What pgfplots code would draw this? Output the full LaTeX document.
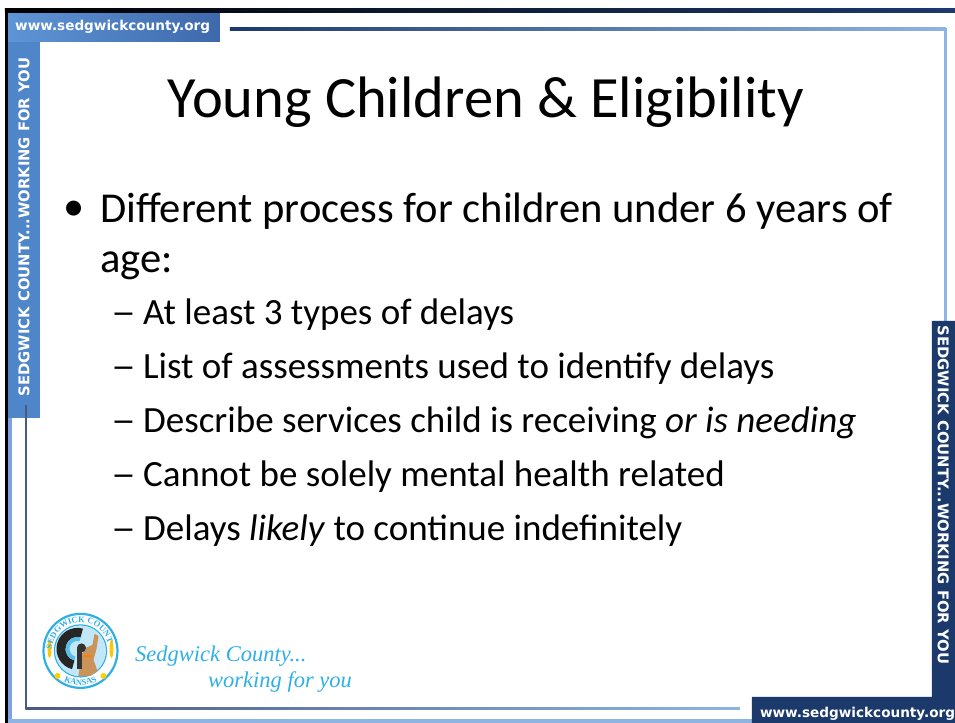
\documentclass[border=0pt]{standalone}
\usepackage{pgfplots}
\pgfplotsset{compat=1.18}
\usepackage{fontspec}
\setmainfont{Carlito}
\newfontfamily\bandfont{DejaVu Sans}
\newfontfamily\logofont{Liberation Serif}
\usetikzlibrary{decorations.text}
\definecolor{bandblue}{HTML}{4F86C9}
\definecolor{bandlight}{HTML}{5E95D6}
\definecolor{tabdark}{HTML}{3E69AC}
\definecolor{navy}{HTML}{1B3A6B}
\definecolor{lineblue}{HTML}{8DB4E2}
\definecolor{logoblue}{HTML}{2FAFE6}
\definecolor{framegray}{HTML}{4A5A80}
\definecolor{skin}{HTML}{C9935A}
\begin{document}
\begin{tikzpicture}
\begin{axis}[scale only axis, width=955pt, height=723pt,
  xmin=0, xmax=955, ymin=0, ymax=723, y dir=reverse,
  hide axis, clip=false]
\path (axis cs:0,0) rectangle (axis cs:955,723);
% left band with top tab
\addplot[fill=bandblue, draw=none] coordinates {(8,13) (40,13) (40,418) (8,418)} -- cycle;
\shade[left color=bandlight, right color=tabdark] (axis cs:8,13) rectangle (axis cs:220,42);
% outer borders
\shade[left color=black, right color=navy] (axis cs:5,9) rectangle (axis cs:955,13);
\fill[black] (axis cs:5,9) rectangle (axis cs:8,723);
\fill[lineblue!90!blue] (axis cs:8,418) rectangle (axis cs:12,723);
\fill[lineblue] (axis cs:8,719) rectangle (axis cs:752,723);
% inner frame
\fill[framegray] (axis cs:25.3,405) rectangle (axis cs:27,709);
\shade[left color=framegray, right color=lineblue] (axis cs:25.3,707.3) rectangle (axis cs:740,709.3);
% top line and right line
\shade[left color=navy, right color=lineblue] (axis cs:230,28) rectangle (axis cs:946,30.5);
\fill[lineblue] (axis cs:944.5,28) rectangle (axis cs:947,325);
% right band and bottom tab
\addplot[fill=navy, draw=none] coordinates {(932,321) (955,321) (955,723) (752,723) (752,697) (932,697)} -- cycle;
% band texts
\node[rotate=90, text=white, font=\bandfont\bfseries\fontsize{14.8}{15}\selectfont] at (axis cs:24,227) {SEDGWICK COUNTY...WORKING FOR YOU};
\node[rotate=-90, text=white, font=\bandfont\bfseries\fontsize{14.8}{15}\selectfont] at (axis cs:943.5,495) {SEDGWICK COUNTY...WORKING FOR YOU};
\node[anchor=base west, inner sep=0, text=white, font=\bandfont\bfseries\fontsize{13.6}{14}\selectfont] at (axis cs:15,31) {www.sedgwickcounty.org};
\node[anchor=base west, inner sep=0, text=white, font=\bandfont\bfseries\fontsize{13.6}{14}\selectfont] at (axis cs:760,718) {www.sedgwickcounty.org};
% title
\node[anchor=base, inner sep=0, font=\fontsize{58.5}{66}\selectfont] at (axis cs:486,118) {Young Children \& Eligibility};
% bullet
\node[anchor=base west, inner sep=0, font=\fontsize{42.4}{48}\selectfont] at (axis cs:63,221) {•};
\node[anchor=base west, inner sep=0, font=\fontsize{42.6}{48}\selectfont] at (axis cs:100,223) {Different process for children under 6 years of};
\node[anchor=base west, inner sep=0, font=\fontsize{42.6}{48}\selectfont] at (axis cs:100,273) {age:};
% sub bullets
\node[anchor=base west, inner sep=0, font=\fontsize{37}{44}\selectfont] at (axis cs:111,325) {\scalebox{1.35}[1]{–}};
\node[anchor=base west, inner sep=0, font=\fontsize{37}{44}\selectfont] at (axis cs:143,325) {At least 3 types of delays};
\node[anchor=base west, inner sep=0, font=\fontsize{37}{44}\selectfont] at (axis cs:111,379) {\scalebox{1.35}[1]{–}};
\node[anchor=base west, inner sep=0, font=\fontsize{37}{44}\selectfont] at (axis cs:143,379) {List of assessments used to identify delays};
\node[anchor=base west, inner sep=0, font=\fontsize{37}{44}\selectfont] at (axis cs:111,433) {\scalebox{1.35}[1]{–}};
\node[anchor=base west, inner sep=0, font=\fontsize{37}{44}\selectfont] at (axis cs:143,433) {Describe services child is receiving \textit{or is needing}};
\node[anchor=base west, inner sep=0, font=\fontsize{37}{44}\selectfont] at (axis cs:111,487) {\scalebox{1.35}[1]{–}};
\node[anchor=base west, inner sep=0, font=\fontsize{37}{44}\selectfont] at (axis cs:143,487) {Cannot be solely mental health related};
\node[anchor=base west, inner sep=0, font=\fontsize{37}{44}\selectfont] at (axis cs:111,541) {\scalebox{1.35}[1]{–}};
\node[anchor=base west, inner sep=0, font=\fontsize{37}{44}\selectfont] at (axis cs:143,541) {Delays \textit{likely} to continue indefinitely};
% logo text
\node[anchor=base west, inner sep=0, text=logoblue, font=\logofont\itshape\fontsize{22.5}{24}\selectfont] at (axis cs:135,662) {Sedgwick County...};
\node[anchor=base west, inner sep=0, text=logoblue, font=\logofont\itshape\fontsize{22.5}{24}\selectfont] at (axis cs:208,688) {working for you};
\coordinate (L) at (axis cs:80.5,651);
\end{axis}
\begin{scope}[shift={(L)}]
  \draw[logoblue, line width=2.2pt] (0,0) circle (37pt);
  \draw[logoblue, line width=1.3pt] (0,0) circle (26pt);
  \fill[logoblue!30] (0,0) circle (25.3pt);
  \fill[black!85] ([shift={(-3pt,2pt)}]75:21pt) arc (75:255:21pt) -- ([shift={(-3pt,2pt)}]255:12pt) arc (255:75:12pt) -- cycle;
  \fill[logoblue!80] ([shift={(-3pt,2pt)}]75:12pt) arc (75:255:12pt) -- ([shift={(-3pt,2pt)}]255:8pt) arc (255:75:8pt) -- cycle;
  \fill[skin] (-2pt,-25pt) -- (1pt,-4pt) -- (5pt,3pt) -- (12pt,6pt) -- (14pt,17pt) -- (18pt,15pt) -- (16pt,2pt) -- (13pt,-9pt) -- (17pt,-20pt) -- (10pt,-25pt) -- cycle;
  \fill[black!80] (1pt,3pt) circle (4.5pt);
  \fill[black!80] (-3pt,2pt) rectangle (2pt,-18pt);
  \fill[orange] (4pt,-6pt) rectangle (12pt,-4pt);
  \fill[yellow!60!orange] (-31pt,2pt) ellipse (2pt and 9pt);
  \fill[yellow!60!orange] (31pt,2pt) ellipse (2pt and 9pt);
  \fill[yellow!70!orange] (-23pt,-25pt) circle (3pt);
  \fill[yellow!70!orange] (23pt,-25pt) circle (3pt);
  \path[decorate, decoration={text along path, text align=center,
    text={|\color{logoblue}\bfseries\fontsize{8.5}{8.5}\logofont|SEDGWICK COUNTY}}]
    (160:28.5pt) arc (160:20:28.5pt);
  \path[decorate, decoration={text along path, text align=center,
    text={|\color{logoblue}\bfseries\fontsize{8.5}{8.5}\logofont|KANSAS}}]
    (-125:34.5pt) arc (-125:-55:34.5pt);
\end{scope}
\end{tikzpicture}
\end{document}
